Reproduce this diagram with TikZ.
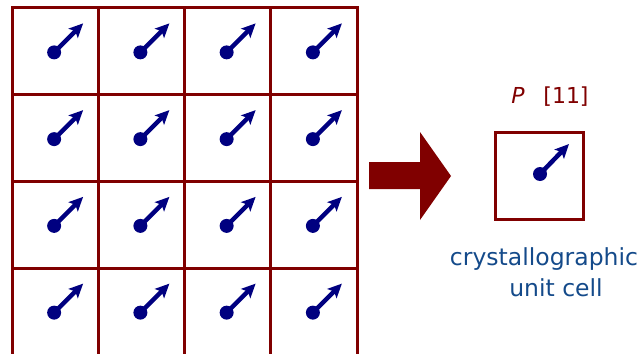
\documentclass[tikz,border=0pt]{standalone}
\usepackage{fontspec}
\setmainfont{DejaVu Sans}
\usetikzlibrary{arrows.meta,calc}
\definecolor{gridred}{RGB}{128,0,0}
\definecolor{spinblue}{RGB}{0,0,128}
\definecolor{textblue}{RGB}{20,74,138}
\tikzset{
 cellbox/.style={draw=gridred, line width=3pt, minimum width=86.25pt, minimum height=86.75pt, inner sep=0pt, outer sep=0pt},
 spin/.style={draw=spinblue, line width=4.5pt, -{Stealth[length=14pt,width=13pt,inset=3pt]}},
 dot/.style={circle, fill=spinblue, minimum size=14pt, inner sep=0pt},
 lbl/.style={anchor=base, inner sep=0pt},
}
\begin{document}
\begin{tikzpicture}[x=1pt,y=-1pt]
\useasboundingbox (0,0) rectangle (644,353);
\begin{scope}
\clip (0,0) rectangle (644,353);
\foreach \i in {0,...,3} \foreach \j in {0,...,3} {
  \node[cellbox] (c\i\j) at ({12+86.25*(\i+0.5)},{8+86.75*(\j+0.5)}) {};
  \node[dot] (d\i\j) at ($(c\i\j.center)+(-1,1)$) {};
  \coordinate (t\i\j) at ($(d\i\j.center)+(29,-29)$);
  \draw[spin] (d\i\j.center) -- (t\i\j);
}
\end{scope}
% big arrow
\fill[gridred] (369,162) -- (420,162) -- (420,132) -- (451,176) -- (420,220) -- (420,189) -- (369,189) -- cycle;
% unit cell
\node[cellbox, minimum width=88pt, minimum height=87pt] (uc) at (539,175.5) {};
\node[dot] (ud) at (540,174) {};
\coordinate (ut) at ($(ud.center)+(29,-30)$);
\draw[spin] (ud.center) -- (ut);
\node[lbl, text=gridred, font=\fontsize{22}{26}\selectfont\itshape] (P) at (518,103) {P};
\node[lbl, text=gridred, font=\fontsize{22}{26}\selectfont] (idx) at (566,103) {[11]};
\node[lbl, text=textblue, font=\fontsize{23.5}{28}\selectfont] (l1) at (544,265) {crystallographic};
\node[lbl, text=textblue, font=\fontsize{23.5}{28}\selectfont] (l2) at (556,296) {unit cell};
\end{tikzpicture}
\end{document}
